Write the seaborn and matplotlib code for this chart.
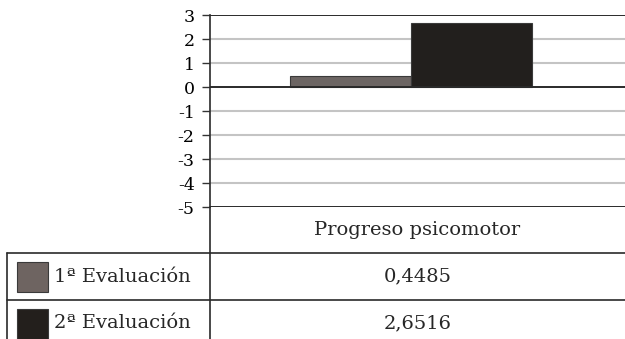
import matplotlib
matplotlib.use("Agg")
import matplotlib.pyplot as plt
from matplotlib.patches import Rectangle
import seaborn as sns
import pandas as pd

categoria = "Progreso psicomotor"
evaluaciones = ["1ª Evaluación", "2ª Evaluación"]
valores = [0.4485, 2.6516]
colores = ["#6e6461", "#231f1c"]
y_ticks = [3, 2, 1, 0, -1, -2, -3, -4, -5]

sns.set_theme(style="white")
plt.rcParams["font.family"] = ["DejaVu Serif"]

W, H = 625, 339
fig = plt.figure(figsize=(W / 100, H / 100), dpi=100)

# plot area in pixel units
L, R, T, B = 210, 625, 15, 207
ax = fig.add_axes([L / W, 1 - B / H, (R - L) / W, (B - T) / H])

df = pd.DataFrame({
    "categoria": [categoria] * len(valores),
    "evaluacion": evaluaciones,
    "valor": valores,
})
sns.barplot(data=df, x="categoria", y="valor", hue="evaluacion",
            palette=colores, width=0.6, dodge=True, ax=ax,
            edgecolor="#3a3a3a", linewidth=0.8, legend=False, zorder=3)

ax.set_xlim(-0.5, 0.532)
ax.set_ylim(min(y_ticks), max(y_ticks))
ax.set_yticks(y_ticks)
ax.set_yticklabels([str(t) for t in y_ticks], fontsize=12.5, color="black")
ax.set_xticks([])
ax.set_xlabel("")
ax.set_ylabel("")
ax.tick_params(axis="y", length=6, width=1.0, color="#333333", pad=5, left=True)
for t in y_ticks:
    if t in (0, max(y_ticks), min(y_ticks)):
        ax.axhline(t, color="#2a2a2a", lw=1.4, zorder=4)
    else:
        ax.axhline(t, color="#c4c4c4", lw=1.5, zorder=1)
for s in ["top", "right", "bottom"]:
    ax.spines[s].set_visible(False)
ax.spines["left"].set_color("#2a2a2a")
ax.spines["left"].set_linewidth(1.2)

# data table below the chart, drawn in pixel coordinates
ov = fig.add_axes([0, 0, 1, 1], facecolor="none")
ov.set_xlim(0, W)
ov.set_ylim(H, 0)
ov.axis("off")

lc = "#2a2a2a"
row1, row2, row3 = 253, 300, H
ov.plot([L, L], [B, H], color=lc, lw=1.2)
ov.plot([7, W], [row1, row1], color=lc, lw=1.2)
ov.plot([7, W], [row2, row2], color=lc, lw=1.2)
ov.plot([7, 7], [row1, H], color=lc, lw=1.2)

cx = (L + R) / 2
fs = 14
ov.text(cx, (B + row1) / 2, categoria, ha="center", va="center", fontsize=fs)
rows = [(row1, row2), (row2, row3 + 8)]
for (y0, y1), ev, v, c in zip(rows, evaluaciones, valores, colores):
    ym = (y0 + y1) / 2
    ov.add_patch(Rectangle((17, ym - 15), 31, 30, facecolor=c,
                           edgecolor="#3a3a3a", lw=0.8))
    ov.text(54, ym, ev, ha="left", va="center", fontsize=fs)
    ov.text(cx, ym, f"{v:.4f}".replace(".", ","), ha="center", va="center",
            fontsize=fs)

fig.savefig("out.png", dpi=100)
